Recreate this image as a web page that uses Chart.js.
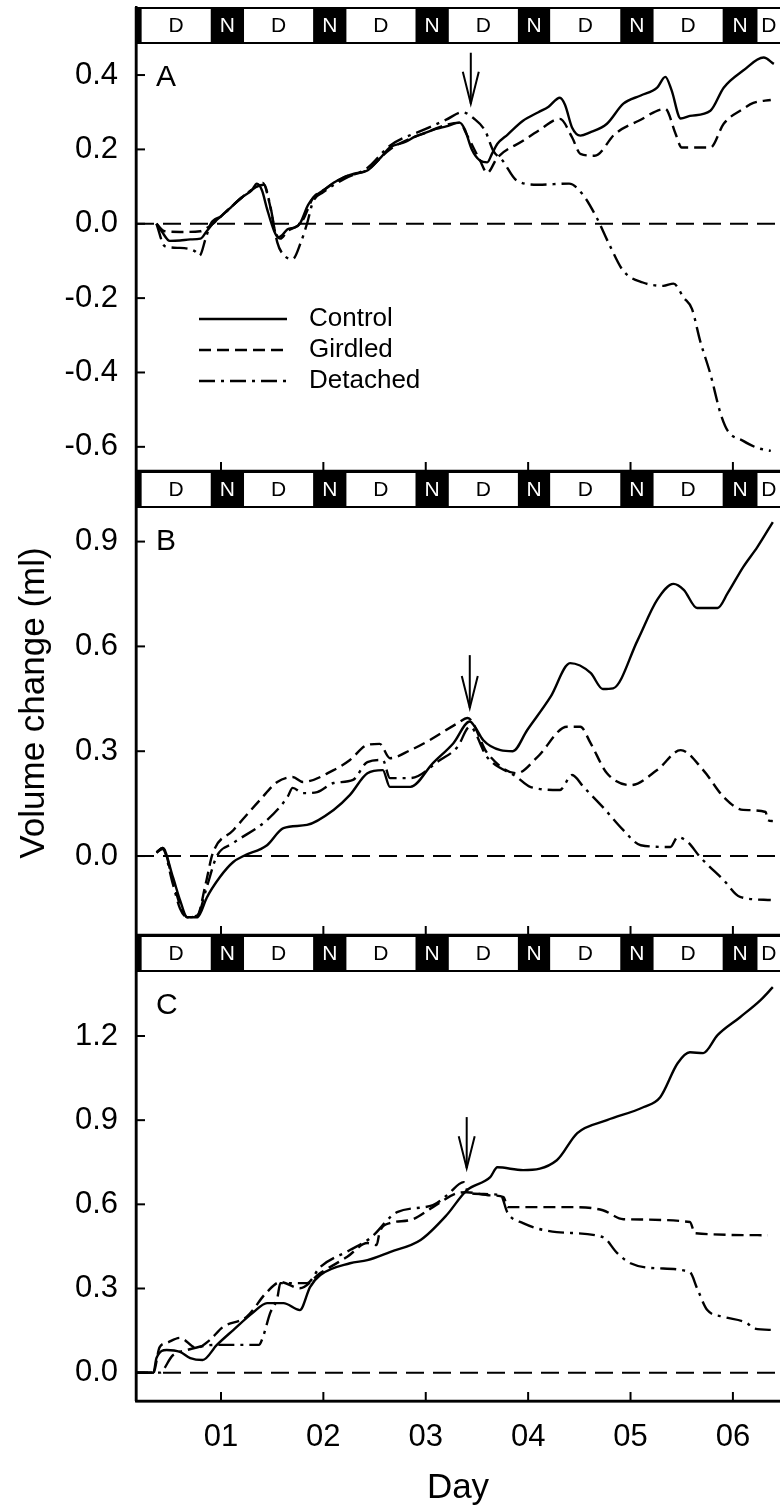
<!DOCTYPE html>
<html>
<head>
<meta charset="utf-8">
<title>Volume change</title>
<script src="https://cdn.jsdelivr.net/npm/chart.js@4.4.1/dist/chart.umd.min.js"></script>
<style>
    html, body { margin: 0; padding: 0; background: #fff; }
    #figure { position: relative; width: 780px; height: 1509px; overflow: hidden; }
    #figure canvas { position: absolute; left: 0; }
</style>
</head>
<body>
<div id="figure">
    <canvas id="panelA" width="780" height="474" style="top:0px"></canvas>
    <canvas id="panelB" width="780" height="472" style="top:467px"></canvas>
    <canvas id="panelC" width="780" height="578" style="top:931px"></canvas>
</div>
<script>
// --- x axis: days ---
const dayMin = 0.17;
const dayMax = 6.46;
const dayTicks = [1, 2, 3, 4, 5, 6];
const dayLabels = ['01', '02', '03', '04', '05', '06'];
const nightStart = [-0.1, 0.9, 1.9, 2.9, 3.9, 4.9, 5.9];
const nightEnd = [0.225, 1.225, 2.225, 3.225, 4.215, 5.225, 6.24];

const seriesNames = ['Control', 'Girdled', 'Detached'];
const panelLetters = ['A', 'B', 'C'];

// --- panel A ---
const aControlDay = [0.37,0.42,0.5,0.6,0.7,0.8,0.86,0.92,1.0,1.1,1.2,1.3,1.35,1.4,1.45,1.52,1.56,1.6,1.65,1.72,1.77,1.85,1.9,2.0,2.1,2.2,2.3,2.43,2.55,2.65,2.8,2.9,3.0,3.1,3.2,3.33,3.38,3.45,3.53,3.6,3.65,3.7,3.8,3.95,4.1,4.2,4.31,4.36,4.43,4.51,4.6,4.77,4.93,5.1,5.26,5.34,5.4,5.49,5.58,5.78,5.91,6.1,6.3,6.4];
const aControlVol = [0,-0.02,-0.046,-0.045,-0.042,-0.04,-0.02,0,0.02,0.045,0.07,0.09,0.108,0.09,0.04,-0.02,-0.037,-0.03,-0.015,-0.01,0,0.05,0.07,0.09,0.11,0.125,0.135,0.143,0.175,0.205,0.22,0.235,0.245,0.255,0.262,0.272,0.255,0.2,0.17,0.165,0.19,0.215,0.24,0.277,0.3,0.315,0.339,0.32,0.258,0.237,0.245,0.269,0.323,0.345,0.366,0.395,0.36,0.283,0.29,0.304,0.366,0.412,0.447,0.43];
const aGirdledDay = [0.37,0.45,0.6,0.8,0.87,0.92,1.0,1.2,1.35,1.41,1.47,1.53,1.58,1.65,1.75,1.8,1.9,2.0,2.2,2.43,2.65,3.0,3.33,3.4,3.53,3.6,3.7,3.95,4.1,4.31,4.43,4.51,4.65,4.85,5.08,5.34,5.44,5.5,5.78,5.91,6.1,6.2,6.37];
const aGirdledVol = [0,-0.02,-0.022,-0.02,-0.01,0,0.02,0.07,0.1,0.11,0.06,-0.02,-0.04,-0.02,-0.005,0.01,0.07,0.09,0.125,0.145,0.2,0.245,0.272,0.24,0.17,0.137,0.178,0.223,0.25,0.282,0.232,0.188,0.183,0.242,0.277,0.309,0.242,0.205,0.205,0.269,0.309,0.325,0.333];
const aDetachedDay = [0.37,0.45,0.6,0.75,0.79,0.85,0.9,1.0,1.2,1.35,1.42,1.48,1.55,1.6,1.7,1.78,1.84,1.9,2.0,2.2,2.43,2.65,3.0,3.2,3.36,3.47,3.58,3.66,3.75,3.89,4.1,4.4,4.53,4.67,4.8,4.93,5.12,5.32,5.42,5.52,5.6,5.68,5.78,5.88,5.95,6.1,6.24,6.37];
const aDetachedVol = [0,-0.06,-0.065,-0.075,-0.086,-0.04,0,0.02,0.07,0.1,0.105,0.05,-0.05,-0.08,-0.095,-0.05,0,0.06,0.085,0.12,0.15,0.21,0.255,0.28,0.3,0.283,0.25,0.196,0.17,0.116,0.105,0.108,0.08,0.016,-0.06,-0.127,-0.158,-0.167,-0.161,-0.199,-0.229,-0.315,-0.404,-0.511,-0.557,-0.584,-0.603,-0.611];

// --- panel B ---
const bControlDay = [0.37,0.43,0.53,0.6,0.67,0.77,0.8,0.86,0.99,1.12,1.22,1.45,1.61,1.84,2.1,2.26,2.43,2.58,2.65,2.85,3.07,3.27,3.43,3.48,3.56,3.73,3.85,3.99,4.22,4.41,4.61,4.73,4.83,5.07,5.26,5.42,5.52,5.65,5.85,5.95,6.1,6.24,6.39];
const bControlVol = [0.01,0.023,-0.06,-0.126,-0.175,-0.175,-0.163,-0.12,-0.06,-0.017,0,0.031,0.08,0.089,0.132,0.175,0.237,0.246,0.198,0.198,0.266,0.323,0.385,0.37,0.332,0.303,0.3,0.36,0.456,0.552,0.524,0.478,0.48,0.618,0.733,0.779,0.762,0.71,0.71,0.753,0.827,0.885,0.956];
const bGirdledDay = [0.37,0.43,0.53,0.6,0.67,0.77,0.85,0.92,1.12,1.38,1.55,1.7,1.8,2.1,2.26,2.43,2.55,2.65,2.85,3.04,3.31,3.41,3.6,3.89,4.09,4.38,4.51,4.61,4.77,5.0,5.26,5.49,5.71,5.91,6.1,6.32,6.34,6.39];
const bGirdledVol = [0.01,0.023,-0.07,-0.14,-0.175,-0.17,-0.08,0.008,0.074,0.16,0.212,0.226,0.212,0.246,0.275,0.318,0.321,0.28,0.303,0.332,0.38,0.395,0.295,0.237,0.283,0.37,0.37,0.323,0.237,0.203,0.246,0.303,0.246,0.169,0.132,0.126,0.103,0.1];
const bDetachedDay = [0.37,0.43,0.53,0.6,0.67,0.77,0.86,0.96,1.12,1.45,1.65,1.7,1.8,1.94,2.1,2.29,2.43,2.58,2.65,2.85,3.14,3.31,3.43,3.6,3.89,4.02,4.31,4.43,4.54,4.73,4.93,5.1,5.39,5.46,5.56,5.68,5.91,6.07,6.37];
const bDetachedVol = [0.01,0.02,-0.08,-0.15,-0.175,-0.17,-0.09,0,0.037,0.103,0.169,0.195,0.18,0.183,0.209,0.218,0.269,0.275,0.223,0.223,0.275,0.312,0.37,0.283,0.226,0.198,0.189,0.232,0.198,0.14,0.074,0.031,0.026,0.054,0.04,-0.003,-0.069,-0.117,-0.126];

// --- panel C ---
const cControlDay = [0.17,0.34,0.37,0.47,0.6,0.7,0.82,0.96,1.12,1.31,1.45,1.61,1.77,1.87,1.97,2.26,2.43,2.65,2.95,3.2,3.4,3.63,3.7,3.95,4.28,4.48,4.77,5.13,5.29,5.46,5.58,5.71,5.85,6.07,6.27,6.39];
const cControlVol = [0,0,0.052,0.081,0.074,0.052,0.045,0.099,0.152,0.213,0.248,0.248,0.223,0.305,0.348,0.39,0.401,0.43,0.473,0.56,0.65,0.697,0.732,0.722,0.757,0.854,0.9,0.947,0.982,1.103,1.142,1.139,1.203,1.267,1.328,1.374];
const cGirdledDay = [0.17,0.34,0.4,0.47,0.6,0.76,0.89,1.02,1.25,1.45,1.58,1.77,1.97,2.23,2.43,2.52,2.55,2.65,2.85,3.07,3.31,3.4,3.63,3.76,3.8,4.41,4.73,4.93,5.58,5.63,6.34];
const cGirdledVol = [0,0,0.09,0.106,0.124,0.088,0.116,0.163,0.199,0.288,0.323,0.301,0.355,0.412,0.462,0.455,0.501,0.533,0.544,0.59,0.64,0.643,0.632,0.626,0.59,0.59,0.579,0.547,0.537,0.497,0.49];
const cDetachedDay = [0.17,0.4,0.53,0.67,0.94,1.37,1.41,1.48,1.55,1.58,1.84,1.97,2.26,2.46,2.72,3.07,3.21,3.37,3.42,3.73,3.8,3.95,4.28,4.73,4.87,5.0,5.26,5.58,5.65,5.75,5.91,6.14,6.2,6.4];
const cDetachedVol = [0,0,0.062,0.081,0.099,0.099,0.127,0.212,0.266,0.319,0.319,0.377,0.437,0.48,0.572,0.597,0.633,0.679,0.64,0.633,0.569,0.533,0.501,0.483,0.426,0.39,0.372,0.358,0.301,0.223,0.199,0.176,0.158,0.152];

// --- y axes ---
const yMin = [-0.665, -0.226, -0.101];
const yMax = [0.583, 1.102, 1.56];
const yTicksA = [-0.6, -0.4, -0.2, 0, 0.2, 0.4];
const yTicksB = [0, 0.3, 0.6, 0.9];
const yTicksC = [0, 0.3, 0.6, 0.9, 1.2];

// arrows (treatment time)
const arrowDay = [3.44, 3.43, 3.40];
const arrowFrom = [0.46, 0.575, 0.911];
const arrowTo = [0.323, 0.424, 0.729];

const FONT = "'Liberation Sans', Arial, sans-serif";
const STRIP_H = 36;
const dashes = [[], [12, 6], [16, 6, 3, 6]];

Chart.defaults.font.family = FONT;
Chart.defaults.color = '#000';

const toPoints = (days, vols) => days.map((d, i) => ({ x: d, y: vols[i] }));

const line = (ctx, x1, y1, x2, y2) => { ctx.beginPath(); ctx.moveTo(x1, y1); ctx.lineTo(x2, y2); ctx.stroke(); };

// day/night bar across the top of each panel
const drawStrip = (chart) => {
    const { ctx, chartArea: area, scales: { x } } = chart;
    const top = area.top;
    ctx.save();
    ctx.fillStyle = '#fff';
    ctx.fillRect(area.left, top, area.right - area.left, STRIP_H);
    const segs = [];
    nightStart.forEach((s, k) => {
        segs.push({ from: s, to: nightEnd[k], night: true });
        const next = k + 1 < nightStart.length ? nightStart[k + 1] : nightEnd[k] + 0.675;
        segs.push({ from: nightEnd[k], to: next, night: false });
    });
    ctx.font = `21px ${FONT}`;
    ctx.textAlign = 'center';
    ctx.textBaseline = 'middle';
    segs.forEach(seg => {
        const x1 = Math.max(x.getPixelForValue(seg.from), area.left);
        const x2 = Math.min(x.getPixelForValue(seg.to), area.right);
        if (x2 <= x1) return;
        if (seg.night) {
            ctx.fillStyle = '#000';
            ctx.fillRect(x1, top, x2 - x1, STRIP_H);
        }
        if (x2 - x1 > 14) {
            ctx.fillStyle = seg.night ? '#fff' : '#000';
            ctx.fillText(seg.night ? 'N' : 'D', (x1 + x2) / 2, top + STRIP_H / 2 + 1);
        }
    });
    ctx.strokeStyle = '#000';
    ctx.lineWidth = 2;
    line(ctx, area.left, top + 1, area.right, top + 1);
    line(ctx, area.left, top + STRIP_H, area.right, top + STRIP_H);
    ctx.restore();
};

const panelDecor = (i, yTicks) => ({
    id: 'panelDecor' + i,
    afterDraw(chart) {
        const { ctx, chartArea: area, scales: { x, y } } = chart;
        drawStrip(chart);
        ctx.save();
        ctx.strokeStyle = '#000';
        ctx.fillStyle = '#000';
        // frame: left axis and bottom line
        ctx.lineWidth = 2.5;
        line(ctx, area.left, area.top, area.left, area.bottom);
        line(ctx, area.left, area.bottom, area.right, area.bottom);
        // inward ticks
        ctx.lineWidth = 2;
        yTicks.forEach(v => {
            const py = y.getPixelForValue(v);
            line(ctx, area.left, py, area.left + 9, py);
        });
        dayTicks.forEach(d => {
            const px = x.getPixelForValue(d);
            line(ctx, px, area.bottom, px, area.bottom - 9);
        });
        // panel letter
        ctx.font = `30px ${FONT}`;
        ctx.textAlign = 'left';
        ctx.textBaseline = 'middle';
        ctx.fillText(panelLetters[i], area.left + 20, area.top + 71);
        // arrow
        const ax = x.getPixelForValue(arrowDay[i]);
        const ay1 = y.getPixelForValue(arrowFrom[i]);
        const ay2 = y.getPixelForValue(arrowTo[i]);
        ctx.lineWidth = 2;
        line(ctx, ax, ay1, ax, ay2);
        ctx.beginPath();
        ctx.moveTo(ax - 8, ay2 - 32);
        ctx.lineTo(ax, ay2);
        ctx.lineTo(ax + 8, ay2 - 32);
        ctx.stroke();
        // legend only in panel A
        if (i === 0) {
            ctx.font = `26px ${FONT}`;
            seriesNames.forEach((name, k) => {
                const ly = area.top + 312 + k * 31;
                ctx.lineWidth = 2.4;
                ctx.setLineDash(dashes[k]);
                line(ctx, area.left + 63, ly, area.left + 151, ly);
                ctx.setLineDash([]);
                ctx.fillText(name, area.left + 173, ly);
            });
        }
        ctx.restore();
    }
});

const makePanel = (i, canvasId, series, yTicks, opts) => {
    const datasets = series.map((s, k) => ({
        label: seriesNames[k],
        data: toPoints(s[0], s[1]),
        borderColor: '#000',
        borderWidth: 2.4,
        borderDash: dashes[k],
        pointRadius: 0,
        cubicInterpolationMode: 'monotone',
        fill: false
    }));
    // zero reference line
    datasets.push({
        label: 'zero',
        data: [{ x: dayMin, y: 0 }, { x: dayMax, y: 0 }],
        borderColor: '#000',
        borderWidth: 2,
        borderDash: [18, 9],
        pointRadius: 0
    });

    return new Chart(document.getElementById(canvasId), {
        type: 'line',
        data: { datasets },
        options: {
            responsive: false,
            animation: false,
            events: [],
            layout: { padding: opts.padding, autoPadding: false },
            plugins: { legend: { display: false }, tooltip: { enabled: false } },
            scales: {
                x: {
                    type: 'linear',
                    min: dayMin,
                    max: dayMax,
                    display: opts.showX,
                    border: { display: true, color: '#000', width: 2.5 },
                    grid: { drawOnChartArea: false, drawTicks: false },
                    ticks: {
                        font: { size: 31 },
                        padding: 18,
                        autoSkip: false,
                        maxRotation: 0,
                        callback: (v, idx) => dayLabels[idx]
                    },
                    title: { display: opts.showX, text: 'Day', font: { size: 35 }, padding: 0 },
                    afterBuildTicks: (axis) => { axis.ticks = dayTicks.map(d => ({ value: d })); },
                    afterFit: (axis) => {
                        if (opts.showX) axis.height = 108;
                        axis.paddingLeft = 0;
                        axis.paddingRight = 0;
                    }
                },
                y: {
                    type: 'linear',
                    position: 'left',
                    min: yMin[i],
                    max: yMax[i],
                    border: { display: true, color: '#000', width: 2.5 },
                    grid: { drawOnChartArea: false, drawTicks: false },
                    ticks: { font: { size: 31 }, padding: 18, callback: (v) => v.toFixed(1) },
                    title: {
                        display: !!opts.yTitle,
                        text: opts.yTitle || '',
                        font: { size: 35 },
                        padding: { top: 13, bottom: 0 }
                    },
                    afterBuildTicks: (axis) => { axis.ticks = yTicks.map(v => ({ value: v })); },
                    afterFit: (axis) => {
                        axis.width = 136;
                        axis.paddingTop = 0;
                        axis.paddingBottom = 0;
                    }
                }
            }
        },
        plugins: [panelDecor(i, yTicks)]
    });
};

makePanel(0, 'panelA',
    [[aControlDay, aControlVol], [aGirdledDay, aGirdledVol], [aDetachedDay, aDetachedVol]],
    yTicksA, { padding: { top: 7, bottom: 3, left: 0, right: 0 }, showX: false });

makePanel(1, 'panelB',
    [[bControlDay, bControlVol], [bGirdledDay, bGirdledVol], [bDetachedDay, bDetachedVol]],
    yTicksB, { padding: { top: 4, bottom: 4, left: 0, right: 0 }, showX: false, yTitle: 'Volume change (ml)' });

makePanel(2, 'panelC',
    [[cControlDay, cControlVol], [cGirdledDay, cGirdledVol], [cDetachedDay, cDetachedVol]],
    yTicksC, { padding: { top: 4, bottom: 0, left: 0, right: 0 }, showX: true });
</script>
</body>
</html>
